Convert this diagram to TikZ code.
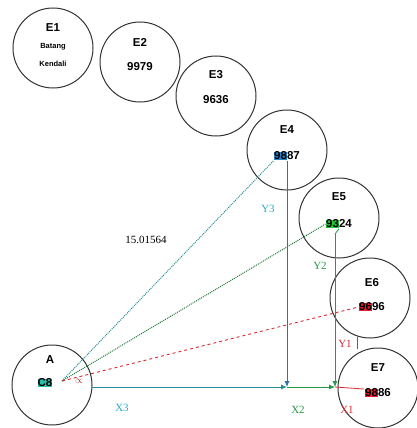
\documentclass[tikz,border=0pt]{standalone}
\usepackage{fontspec}
\setmainfont{Liberation Serif}
\setsansfont{Liberation Sans}
\usetikzlibrary{arrows.meta}
\definecolor{tealline}{RGB}{40,140,150}
\definecolor{blueline}{RGB}{50,110,170}
\definecolor{greenline}{RGB}{40,150,70}
\definecolor{redline}{RGB}{220,40,50}
\definecolor{cyanlabel}{RGB}{40,170,200}
\definecolor{hlblue}{RGB}{40,130,200}
\definecolor{hlgreen}{RGB}{40,200,60}
\definecolor{hlred}{RGB}{235,30,40}
\definecolor{hlteal}{RGB}{40,190,170}
\newcommand{\hl}[2]{{\setlength{\fboxsep}{0pt}\colorbox{#1}{#2}}}
\tikzset{
  station/.style={circle, draw=black!80, line width=1pt, minimum size=80pt, inner sep=0pt},
  tag/.style={font=\sffamily\bfseries\fontsize{11.5}{13}\selectfont, inner sep=0.5pt},
  smalltag/.style={font=\sffamily\bfseries\fontsize{7.5}{9}\selectfont, inner sep=0.5pt},
  axislabel/.style={font=\fontsize{11}{13}\selectfont, inner sep=0.5pt},
  tip/.style={-{Latex[length=6pt,width=5pt]}}
}
\begin{document}
\begin{tikzpicture}[x=1pt,y=-1pt]
\useasboundingbox (0,0) rectangle (416,428);
% stations
\node[station] (E1) at (53,48) {};
\node[station] (E2) at (140,62) {};
\node[station] (E3) at (216,96) {};
\node[station] (E4) at (287,150) {};
\node[station] (E5) at (339,218) {};
\node[station] (E6) at (370,298) {};
\node[station] (E7) at (378,388) {};
\node[station] (A)  at (52,385) {};
% station texts
\node[tag] (e1) at (53,28) {E1};
\node[smalltag] (e1a) at (53,47) {Batang};
\node[smalltag] (e1b) at (53,64) {Kendali};
\node[tag] (e2) at (140,42) {E2};
\node[tag] (n2) at (140,67) {9979};
\node[tag] (e3) at (216,75) {E3};
\node[tag] (n3) at (216,100) {9636};
\node[tag] (e4) at (287,130) {E4};
\node[tag] (n4) at (287,156) {\hl{hlblue}{98}87};
\node[tag] (e5) at (339,197) {E5};
\node[tag] (n5) at (339,224) {\hl{hlgreen}{93}24};
\node[tag] (e6) at (372,283) {E6};
\node[tag] (n6) at (372,307) {\hl{hlred}{96}96};
\node[tag] (e7) at (378,368) {E7};
\node[tag] (n7) at (378,393) {\hl{hlred}{98}86};
\node[tag] (a) at (50,360) {A};
\node[tag] (c8) at (45,383) {\hl{hlteal}{C8}};
\node[font=\fontsize{10}{11}\selectfont, text=redline!70!black, inner sep=0pt] (alpha) at (79,381) {$\propto$};
% corner points of the offsets
\coordinate (o) at (62,381);
\coordinate (b4) at (287,387);
\coordinate (b5) at (335,387);
\coordinate (t5) at (335,234);
\coordinate (x0) at (92,387);
\coordinate (x7) at (364,389);
\coordinate (y6) at (357,337);
\coordinate (y7) at (357,349);
% sight lines from A
\draw[tealline, densely dotted, line width=1pt] (o) -- (n4.south west);
\draw[greenline!80!black, densely dotted, line width=1pt] (o) -- (n5.west);
\draw[redline, dashed, line width=0.9pt] (o) -- (n6.west);
% offsets
\draw[tealline, line width=0.9pt, tip] (x0) -- (b4);
\draw[blueline, line width=0.9pt, tip] (n4.south) -- (b4);
\draw[greenline, line width=0.8pt] (n5.south) -- (t5);
\draw[greenline, line width=0.8pt, tip] (t5) -- (b5);
\draw[greenline, line width=0.8pt, tip] (b4) -- (b5);
\draw[redline, line width=0.8pt] (b5) -- (x7);
\draw[redline, line width=0.8pt] (y6) -- (y7);
% labels
\node[axislabel] (dist) at (146,240) {15.01564};
\node[axislabel, text=cyanlabel] (ly3) at (268,209) {Y3};
\node[axislabel, text=greenline] (ly2) at (320,266) {Y2};
\node[axislabel, text=redline] (ly1) at (345,344) {Y1};
\node[axislabel, text=cyanlabel] (lx3) at (122,408) {X3};
\node[axislabel, text=greenline] (lx2) at (298,410) {X2};
\node[axislabel, text=redline] (lx1) at (347,410) {X1};
\end{tikzpicture}
\end{document}
